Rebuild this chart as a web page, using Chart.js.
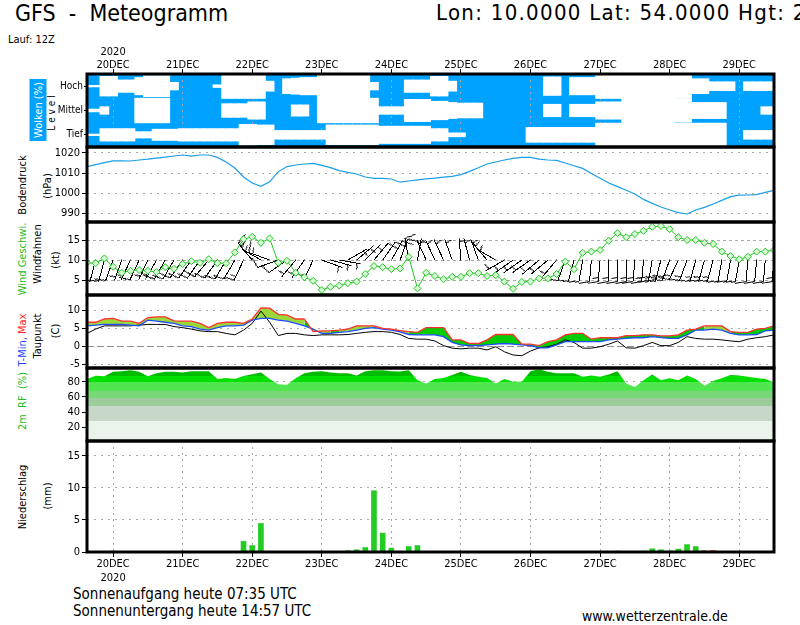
<!DOCTYPE html>
<html>
<head>
<meta charset="utf-8">
<title>GFS Meteogramm</title>
<script src="https://cdn.jsdelivr.net/npm/chart.js@4.4.1/dist/chart.umd.min.js"></script>
<style>
  html, body { margin: 0; padding: 0; background: #fff; }
  body { position: relative; width: 800px; height: 625px; overflow: hidden;
         font-family: "DejaVu Sans Condensed", "Liberation Sans Narrow", "Liberation Sans", sans-serif; color: #000; }
  canvas { position: absolute; left: 0; }
  .t { position: absolute; white-space: pre; line-height: 1; }
  .r { position: absolute; white-space: pre; line-height: 1; font-size: 11px;
       transform: translate(-50%, -50%) rotate(-90deg); }
</style>
</head>
<body>

<div class="t" style="left:15px;top:2px;font-size:23px">GFS  -  Meteogramm</div>
<div class="t" style="left:436px;top:2px;font-size:22px;letter-spacing:1.3px">Lon: 10.0000 Lat: 54.0000 Hgt: 2</div>
<div class="t" style="left:8px;top:34px;font-size:11px">Lauf: 12Z</div>

<div class="r" style="left:38px;top:110px;background:#00a2ff;color:#fff;padding:3px 3px">Wolken (%)</div>
<div class="r" style="left:52px;top:113px;font-size:10px">L e v e l</div>
<div class="r" style="left:22px;top:185px">Bodendruck</div>
<div class="r" style="left:47px;top:186px">(hPa)</div>
<div class="r" style="left:22px;top:259px;color:#22bb22">Wind Geschwi.</div>
<div class="r" style="left:37px;top:254px">Windfahnen</div>
<div class="r" style="left:55px;top:260px">(kt)</div>
<div class="r" style="left:22px;top:340px"><span style="color:#2244ff">T-Min,</span> <span style="color:#ff2222">Max</span></div>
<div class="r" style="left:37px;top:336px">Taupunkt</div>
<div class="r" style="left:55px;top:331px">(C)</div>
<div class="r" style="left:22px;top:401px;color:#22bb22">2m  RF  (%)</div>
<div class="r" style="left:22px;top:497px">Niederschlag</div>
<div class="r" style="left:47px;top:496px">(mm)</div>

<div class="t" style="left:73px;top:587px;font-size:15px">Sonnenaufgang heute 07:35 UTC</div>
<div class="t" style="left:73px;top:604px;font-size:15px">Sonnenuntergang heute 14:57 UTC</div>
<div class="t" style="left:582px;top:609px;font-size:14px">www.wetterzentrale.de</div>

<script>
// --- Zeitachse: 3-stuendige Schritte, 19DEC 15Z bis 29DEC 12Z (Tage ab 20DEC 00Z) ---
const X_MIN = -0.375;
const X_MAX = 9.5;
const STEP = 0.125;
const dayTicks = [0, 1, 2, 3, 4, 5, 6, 7, 8, 9];
const dayLabels = ['20DEC', '21DEC', '22DEC', '23DEC', '24DEC', '25DEC', '26DEC', '27DEC', '28DEC', '29DEC'];
const yearLabel = '2020';
const levelLabels = ['Tief', 'Mittel', 'Hoch'];

// Bewoelkung (%) je Schicht
const cloudHigh = [95,95,20,20,50,50,30,15,15,15, 70,100,100,100,100,90,0,0,0,0,
                   0,60,100,40,35,30,30,0,0,0, 0,0,0,70,100,100,100,50,50,50,
                   20,20,60,100,100,100,100,100,100,100, 100,100,100,25,25,100,30,30,30,0,
                   0,0,0,0,0,0,0,0,0,0, 40,40,65,65,65,100,65,65,65,65];
const cloudMid  = [90,90,70,100,100,100,0,0,0,0, 100,100,100,100,100,100,45,45,45,30,
                   30,100,100,100,55,55,100,0,0,0, 0,0,0,0,70,70,70,10,10,10,
                   25,25,35,40,40,40,100,100,100,100, 100,100,100,50,50,100,50,50,50,30,
                   30,30,0,0,0,0,0,0,5,5, 35,35,35,35,100,100,100,100,70,70];
const cloudLow  = [95,95,50,50,50,50,75,75,55,55, 55,50,50,50,50,50,50,50,15,15,
                   20,20,65,65,65,65,65,65,20,20, 20,20,20,20,30,30,30,30,30,30,
                   50,50,85,85,100,100,100,100,100,100, 100,40,40,40,40,40,40,40,40,5,
                   5,5,5,5,5,5,5,5,5,5, 5,5,5,5,100,100,65,65,65,65];

// Bodendruck (hPa)
const pressure = [1013.2,1014.2,1015.2,1016.1,1016.1,1016.0,1016.5,1016.9,1017.4,1017.9,
                  1018.5,1019.0,1018.4,1019.0,1019.0,1017.8,1015.5,1012.5,1008.0,1005.0,
                  1003.3,1005.6,1010.7,1013.2,1014.0,1014.5,1014.8,1013.8,1012.7,1011.2,
                  1010.3,1009.5,1008.0,1007.3,1007.3,1007.0,1005.4,1006.0,1006.6,1007.1,
                  1007.4,1007.9,1008.3,1009.2,1010.8,1012.6,1014.5,1015.5,1016.5,1017.3,
                  1017.8,1017.8,1016.9,1016.5,1016.3,1015.0,1013.6,1012.3,1009.8,1007.4,
                  1005.0,1003.2,1001.4,999.5,996.8,994.8,993.0,991.5,990.2,989.5,
                  991.5,992.8,994.5,996.3,998.2,998.9,999.0,999.2,1000.3,1001.3];

// Windgeschwindigkeit (kt) und Windrichtung (Grad)
const windSpeed = [9.3,9.2,10.4,8.3,6.8,7.3,7.5,7.3,7.0,8.2,
                   7.8,9.0,9.7,9.3,10.2,9.2,9.2,11.9,15.2,15.8,
                   14.3,15.4,9.3,9.8,6.8,5.7,4.8,2.5,3.3,3.6,
                   4.2,4.6,6.5,8.5,8.2,7.7,7.9,10.8,2.9,6.8,
                   6.0,5.2,5.8,5.8,6.7,6.7,6.0,6.2,4.6,2.8,
                   4.5,4.6,5.4,5.4,6.5,9.6,7.7,11.8,12.1,12.5,
                   14.8,16.7,15.7,16.5,17.3,18.3,18.5,17.7,15.7,15.0,
                   15.0,14.3,14.0,12.1,11.0,10.2,10.8,12.1,12.1,12.5];
const windDir = [190,195,195,200,200,205,205,205,210,210,
                 210,215,215,215,220,215,210,210,205,320,
                 300,290,250,235,220,215,205,110,105,100,
                 60,50,45,40,35,30,20,350,10,335,
                 335,335,340,355,345,340,320,300,240,235,
                 235,235,230,230,220,200,195,190,185,185,
                 180,180,180,185,185,190,195,200,205,200,
                 195,195,195,190,190,190,185,185,185,185];

// Temperatur (C)
const tMax = [6.6,6.6,7.5,7.7,6.9,6.9,6.3,7.9,8.1,8.1,
              7.0,6.9,6.9,6.3,5.1,6.3,6.6,6.6,6.3,7.5,
              10.6,10.5,8.8,8.6,7.5,7.5,4.0,4.2,4.2,4.4,
              4.7,5.6,5.6,5.6,4.9,4.7,4.3,4.0,3.8,5.1,
              5.1,5.1,1.7,1.7,0.7,0.7,1.7,3.2,3.2,3.2,
              0.5,0.5,0.1,1.2,1.7,3.1,3.5,3.5,1.9,2.3,
              2.3,2.3,2.9,2.9,3.1,3.1,2.8,2.8,3.1,4.4,
              4.7,5.6,5.6,5.6,4.0,3.8,3.8,4.7,4.9,5.6];
const tMin = [5.6,5.8,6.0,6.0,6.0,5.8,5.6,7.2,6.9,6.6,
              6.3,5.6,5.4,4.7,4.4,5.1,5.6,5.6,5.8,7.2,
              7.7,7.7,7.2,6.9,6.3,5.6,4.7,3.5,3.5,3.8,
              4.0,4.4,4.9,5.1,4.7,4.4,3.9,3.2,3.1,3.1,
              3.1,2.6,1.0,0.3,0.1,0.1,0.3,0.5,0.7,0.5,
              0.3,0.1,-0.5,-0.5,0.3,1.2,1.2,1.2,1.2,1.2,
              1.7,1.9,2.1,2.3,2.3,2.6,2.3,2.1,2.1,3.1,
              4.4,4.4,4.7,4.4,3.5,3.1,3.1,3.2,4.2,4.4];
const tDew = [3.5,4.7,5.6,5.6,5.6,5.6,5.8,6.0,6.0,6.0,
              5.4,5.1,4.7,4.2,4.0,4.0,3.5,3.1,4.4,6.3,
              9.7,6.6,2.9,3.5,3.5,3.1,2.9,3.1,3.1,3.1,
              3.2,3.5,3.8,4.0,4.0,3.8,3.2,2.1,1.9,1.9,
              1.4,0.1,-0.6,-0.8,-0.6,-0.6,-1.1,-0.2,-1.6,-2.5,
              -2.7,-1.4,-0.5,-0.2,0.5,1.7,1.0,-0.6,-0.6,-0.2,
              0.5,1.4,-0.5,-0.6,0.1,1.0,0.1,0.1,1.0,2.6,
              2.1,1.9,1.9,1.7,1.4,1.2,1.9,2.3,2.6,3.1];
// Flaeche zwischen Min und Max: y = gelbgruen, g = gruen
const tFill = ['y','y','y','y','y','y','y','y','y','y',
               'y','y','y','y','y','y','y','y','y','y',
               'y','y','y','y','y','g','y','y','g','y',
               'y','y','y','y','y','y','y','g','g','g',
               'g','g','g','g','g','g','g','g','g','g',
               'g','g','g','g','g','g','g','g','g','g',
               'g','g','g','g','g','g','g','g','g','g',
               'g','y','y','y','g','g','g','g','g','g'];

// Relative Feuchte 2m (%)
const rh = [83.5,87.9,87,93,93.6,95,93,87,91,93,
            93,92,93.6,93.6,93.6,83.5,85,83.5,87.5,89.8,
            92,83.5,76.6,76,84.4,91,93,93.6,92,91,
            91,88,93.6,95,95,93.6,93.3,95,82,77.5,
            83.5,85,88.7,93,88.7,86.6,85,77.5,83.5,80,
            80,93.6,96.2,93,91,91,91,86.6,88,86.6,
            89.6,93.6,77.5,73,82,89.6,82,84.4,82,88,
            83.5,74.6,80.8,84.4,88.7,88,86.6,85,83.5,79];
const rhBands  = [28, 48, 59, 68, 79, 88];
const rhColors = ['#eaf4ea', '#c8d8c8', '#9ccc9c', '#78d878', '#4fe64f', '#00e000', '#00bb00'];

// Niederschlag (mm)
const precipGreen = [0,0,0,0.2,0,0,0,0,0,0,
                     0,0,0,0,0,0,0,0,1.7,1.05,
                     4.5,0,0,0,0,0,0,0,0,0,
                     0.25,0.4,0.75,9.6,3.0,0.65,0,0.9,1.05,0,
                     0,0,0,0,0,0,0,0,0,0,
                     0,0,0,0,0,0,0,0,0,0,
                     0,0.2,0,0,0.2,0.55,0.4,0.2,0.5,1.2,
                     0.9,0.2,0,0,0,0,0,0,0,0];
const precipRed = [0,0,0,0,0,0,0,0,0,0.15,
                   0.15,0,0,0,0,0,0,0,0,0,
                   0,0.15,0.15,0,0,0,0,0,0,0,
                   0,0,0,0,0,0,0,0,0,0,
                   0,0,0,0,0,0,0,0,0,0,
                   0,0,0,0,0,0,0,0,0,0,
                   0,0,0,0,0,0,0,0,0,0,
                   0,0.25,0.3,0,0,0,0.15,0,0,0];

const times = pressure.map((_, i) => X_MIN + i * STEP);
const pts = arr => arr.map((v, i) => ({ x: times[i], y: v }));

// --- Layout ---
const LEFT = 87, RIGHT = 774, PAD = 12;
const GRID = '#a8a8a8';
const BLUE_CLOUD = '#00a2ff';
const GREEN = '#22c422';
const FONT = '"DejaVu Sans Condensed", "Liberation Sans Narrow", "Liberation Sans", sans-serif';
const BARB_LEVEL = 10;

Chart.defaults.font.family = FONT;
Chart.defaults.font.size = 11;
Chart.defaults.color = '#000';
Chart.defaults.animation = false;
Chart.defaults.responsive = false;
Chart.defaults.events = [];
Chart.defaults.plugins.legend.display = false;
Chart.defaults.plugins.tooltip.enabled = false;

// Rahmen und Hintergrund des Plotbereichs
Chart.register({
    id: 'frame',
    beforeDraw(chart, args, opts) {
        if (!opts.fill) return;
        const a = chart.chartArea, ctx = chart.ctx;
        ctx.save();
        ctx.fillStyle = opts.fill;
        ctx.fillRect(a.left, a.top, a.right - a.left, a.bottom - a.top);
        ctx.restore();
    },
    afterDraw(chart) {
        const a = chart.chartArea, ctx = chart.ctx;
        ctx.save();
        ctx.strokeStyle = '#000';
        ctx.lineWidth = 3;
        ctx.strokeRect(a.left, a.top, a.right - a.left, a.bottom - a.top);
        ctx.restore();
    }
});

function panelCanvas(top, bottom, padTop, padBottom) {
    const c = document.createElement('canvas');
    const h = bottom - top + padTop + padBottom;
    c.width = 800;
    c.height = h;
    c.style.top = (top - padTop) + 'px';
    c.style.width = '800px';
    c.style.height = h + 'px';
    document.body.appendChild(c);
    return c;
}

function hiddenX() {
    return { type: 'linear', min: X_MIN, max: X_MAX, offset: false, display: false, grid: { offset: false } };
}

function dayAxis(position, height, pad) {
    return {
        type: 'linear', position: position, min: X_MIN, max: X_MAX, offset: false, z: 1,
        afterBuildTicks: s => { s.ticks = dayTicks.map(v => ({ value: v })); },
        afterFit: s => { s.height = height; },
        ticks: {
            autoSkip: false, maxRotation: 0, padding: pad, font: { size: 11 },
            callback: (v, i) => i === 0
                ? (position === 'top' ? [yearLabel, dayLabels[0]] : [dayLabels[0], yearLabel])
                : dayLabels[i]
        },
        grid: { offset: false, color: GRID, tickColor: '#000', tickLength: 5, tickBorderDash: [] },
        border: { display: false, dash: [2, 4] }
    };
}

function yAxis(min, max, ticks, extra) {
    extra = extra || {};
    return {
        min: min, max: max, z: extra.z || 0,
        afterBuildTicks: s => { s.ticks = ticks.map(v => ({ value: v })); },
        afterFit: s => { s.width = LEFT; },
        ticks: { padding: 2, font: { size: 11 }, callback: v => String(v) },
        grid: {
            drawOnChartArea: true, color: extra.gridColor || GRID,
            tickColor: '#000', tickLength: 5, tickBorderDash: []
        },
        border: { display: false, dash: extra.dash || [2, 5] }
    };
}

function baseOptions(scales, padTop, padBottom, plugins) {
    return {
        layout: { padding: { left: 0, right: 800 - RIGHT, top: padTop, bottom: padBottom } },
        plugins: Object.assign({ legend: { display: false }, tooltip: { enabled: false } }, plugins || {}),
        scales: scales
    };
}

// --- 1. Wolken ---
function cloudBars(cover, level) {
    return cover.map((c, i) => {
        const clear = (100 - c) / 100;
        return { x: times[i], y: clear > 0 ? [level + 0.5 - clear / 2, level + 0.5 + clear / 2] : null };
    });
}
new Chart(panelCanvas(74, 147, 74, PAD), {
    type: 'bar',
    data: {
        datasets: [cloudLow, cloudMid, cloudHigh].map((arr, lvl) => ({
            data: cloudBars(arr, lvl),
            backgroundColor: '#ffffff',
            borderWidth: 0,
            inflateAmount: 0.5,
            barPercentage: 1,
            categoryPercentage: 1,
            grouped: false
        }))
    },
    options: baseOptions({
        x: dayAxis('top', 74, -3),
        y: {
            min: 0, max: 3,
            afterBuildTicks: s => { s.ticks = [0.5, 1.5, 2.5].map(v => ({ value: v })); },
            afterFit: s => { s.width = LEFT; },
            ticks: { padding: 1, font: { size: 10 }, callback: (v, i) => levelLabels[i] },
            grid: { drawOnChartArea: false, color: '#000', tickLength: 3 },
            border: { display: false }
        }
    }, 0, PAD, { frame: { fill: BLUE_CLOUD } })
});

// --- 2. Bodendruck ---
new Chart(panelCanvas(147, 222, PAD, PAD), {
    type: 'line',
    data: {
        datasets: [{
            data: pts(pressure),
            borderColor: '#1a9ee8',
            borderWidth: 1.2,
            pointRadius: 0,
            tension: 0
        }]
    },
    options: baseOptions({
        x: hiddenX(),
        y: yAxis(985.5, 1023, [990, 995, 1000, 1005, 1010, 1015, 1020])
    }, PAD, PAD)
});

// --- 3. Wind ---
// Windfahne als kleines Bild: Schaft zeigt nach oben (Nord), Federn rechts
function barbImage(speed) {
    const L = 22, S = 2 * L + 7;
    const c = document.createElement('canvas');
    c.width = S; c.height = S;
    const g = c.getContext('2d');
    const cx = S / 2, cy = S / 2;
    g.strokeStyle = '#000';
    g.lineWidth = 1;
    g.beginPath();
    g.moveTo(cx, cy);
    g.lineTo(cx, cy - L);
    let n = Math.round(speed / 5);
    let y = cy - L;
    if (n === 1) y += 4;
    while (n >= 2) {
        g.moveTo(cx, y); g.lineTo(cx + 11, y - 2);
        y += 4; n -= 2;
    }
    if (n === 1) { g.moveTo(cx, y); g.lineTo(cx + 6, y - 1); }
    g.stroke();
    return c;
}
const barbImages = windSpeed.map(barbImage);

const pixelArt = {
    id: 'pixelArt',
    beforeDatasetsDraw(chart) { chart.ctx.imageSmoothingEnabled = false; },
    afterDatasetsDraw(chart) { chart.ctx.imageSmoothingEnabled = true; }
};

new Chart(panelCanvas(222, 295, PAD, PAD), {
    type: 'line',
    data: {
        datasets: [{
            data: pts(windSpeed),
            borderColor: GREEN,
            borderWidth: 1,
            pointStyle: 'rectRot',
            pointRadius: 3.5,
            pointBorderColor: GREEN,
            pointBackgroundColor: '#d6ffd6',
            pointBorderWidth: 1,
            tension: 0
        }, {
            data: windDir.map((d, i) => ({ x: times[i], y: BARB_LEVEL })),
            showLine: false,
            pointStyle: barbImages,
            pointRotation: windDir,
            pointRadius: 3
        }]
    },
    options: baseOptions({
        x: hiddenX(),
        y: yAxis(1.25, 19.5, [5, 10, 15], { dash: [3, 3] })
    }, PAD, PAD),
    plugins: [pixelArt]
});

// --- 4. Temperatur ---
new Chart(panelCanvas(295, 368, PAD, PAD), {
    type: 'line',
    data: {
        datasets: [{
            data: pts(tMax),
            borderColor: '#ff3030',
            borderWidth: 1.3,
            pointRadius: 0,
            fill: 1,
            backgroundColor: '#9ad83a',
            segment: { backgroundColor: ctx => tFill[ctx.p0DataIndex] === 'g' ? '#00cc00' : '#9ad83a' }
        }, {
            data: pts(tMin),
            borderColor: '#1e4dff',
            borderWidth: 1.3,
            pointRadius: 0
        }, {
            data: pts(tDew),
            borderColor: '#000',
            borderWidth: 1,
            pointRadius: 0
        }]
    },
    options: (() => {
        const o = baseOptions({
            x: hiddenX(),
            y: yAxis(-6.11, 14.17, [-5, 0, 5, 10])
        }, PAD, PAD, { filler: { drawTime: 'beforeDatasetsDraw' } });
        o.scales.y.grid.color = ctx => (ctx.tick && ctx.tick.value === 0) ? '#909090' : GRID;
        o.scales.y.border.dash = ctx => (ctx.tick && ctx.tick.value === 0) ? [7, 3] : [2, 5];
        return o;
    })()
});

// --- 5. Relative Feuchte ---
function rhGradient(ctx) {
    const chart = ctx.chart;
    const ys = chart.scales && chart.scales.y;
    if (!chart.chartArea || !ys) return rhColors[5];
    const y0 = ys.getPixelForValue(ys.min), y1 = ys.getPixelForValue(ys.max);
    const grad = chart.ctx.createLinearGradient(0, y0, 0, y1);
    const pos = v => Math.min(1, Math.max(0, (ys.getPixelForValue(v) - y0) / (y1 - y0)));
    grad.addColorStop(0, rhColors[0]);
    rhBands.forEach((b, k) => {
        grad.addColorStop(pos(b), rhColors[k]);
        grad.addColorStop(pos(b), rhColors[k + 1]);
    });
    grad.addColorStop(1, rhColors[rhColors.length - 1]);
    return grad;
}
new Chart(panelCanvas(368, 441, PAD, PAD), {
    type: 'line',
    data: {
        datasets: [{
            data: pts(rh),
            borderWidth: 0,
            pointRadius: 0,
            fill: 'origin',
            backgroundColor: rhGradient
        }]
    },
    options: baseOptions({
        x: hiddenX(),
        y: yAxis(2, 98, [20, 40, 60, 80], { z: 1 })
    }, PAD, PAD)
});

// --- 6. Niederschlag ---
new Chart(panelCanvas(441, 552, PAD, 50), {
    type: 'bar',
    data: {
        datasets: [{
            data: pts(precipGreen),
            backgroundColor: '#22cc22',
            borderWidth: 0,
            barPercentage: 0.65,
            categoryPercentage: 1,
            grouped: false
        }, {
            data: pts(precipRed),
            backgroundColor: '#ff4444',
            borderWidth: 0,
            barPercentage: 0.65,
            categoryPercentage: 1,
            grouped: false
        }]
    },
    options: baseOptions({
        x: dayAxis('bottom', 50, 1),
        y: yAxis(0, 17.3, [0, 5, 10, 15])
    }, PAD, 0)
});
</script>
</body>
</html>
